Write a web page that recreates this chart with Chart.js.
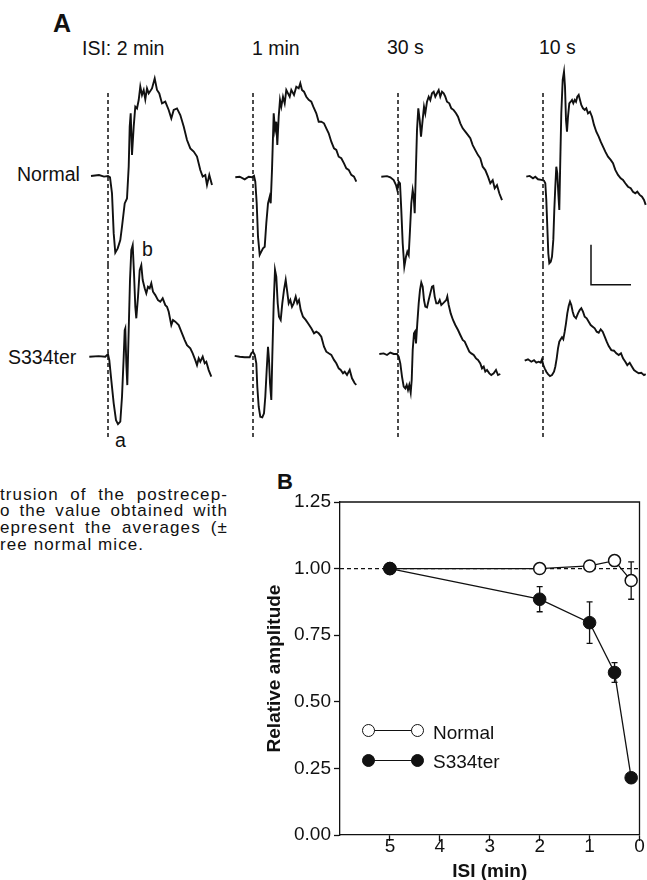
<!DOCTYPE html>
<html>
<head>
<meta charset="utf-8">
<script src="https://cdn.jsdelivr.net/npm/chart.js@4.4.1/dist/chart.umd.min.js"></script>
<style>
  html, body { margin: 0; padding: 0; background: #fff; }
  body { width: 647px; height: 880px; overflow: hidden; position: relative;
         font-family: "Liberation Sans", Arial, Helvetica, sans-serif; color: #111; }
  .lbl { position: absolute; white-space: nowrap; line-height: 1; font-size: 19.5px; }
  .bold { font-weight: bold; }
  .box { position: absolute; }
  .cap { position: absolute; left: 0; width: 228px; font-size: 17px; line-height: 16.7px;
         letter-spacing: 1.1px; white-space: nowrap; }
  .just { text-align: justify; text-align-last: justify; }
  .dot { position: absolute; width: 13px; height: 13px; border-radius: 50%; box-sizing: border-box;
         border: 1.5px solid #111; background: #fff; }
  .dot.filled { background: #111; }
  .rule { position: absolute; height: 0; border-top: 1.3px solid #111; }
</style>
</head>
<body>

<!-- panel A text -->
<div class="lbl bold" style="left:53px; top:11px; font-size:25px;">A</div>
<div class="lbl" style="left:82px; top:39px;">ISI: 2 min</div>
<div class="lbl" style="left:252px; top:39px;">1 min</div>
<div class="lbl" style="left:387px; top:38px;">30 s</div>
<div class="lbl" style="left:539px; top:38px;">10 s</div>
<div class="lbl" style="left:17px; top:164.5px;">Normal</div>
<div class="lbl" style="left:8px; top:348px;">S334ter</div>
<div class="lbl" style="left:142px; top:240px;">b</div>
<div class="lbl" style="left:115px; top:431px;">a</div>

<!-- cropped legend text of the page -->
<div class="cap just" style="top:486.5px;">trusion of the postrecep-</div>
<div class="cap just" style="top:503.2px;">o the value obtained with</div>
<div class="cap just" style="top:519.9px;">epresent the averages (±</div>
<div class="cap" style="top:536.6px;">ree normal mice.</div>

<!-- panel B -->
<div class="lbl bold" style="left:277px; top:470.5px; font-size:22px;">B</div>
<div class="box" id="chartB" style="left:250px; top:462px; width:397px; height:428px;">
  <canvas id="ampChart"></canvas>
</div>

<!-- legend of panel B -->
<div class="rule" style="left:374px; top:729.5px; width:38px;"></div>
<div class="dot" style="left:361.5px; top:723.5px;"></div>
<div class="dot" style="left:410.5px; top:723.5px;"></div>
<div class="lbl" style="left:433px; top:722.5px; font-size:19px;">Normal</div>
<div class="rule" style="left:374px; top:760px; width:38px;"></div>
<div class="dot filled" style="left:361.5px; top:754px;"></div>
<div class="dot filled" style="left:410.5px; top:754px;"></div>
<div class="lbl" style="left:433px; top:752px; font-size:19px;">S334ter</div>

<script>
// ---------- data: panel A, ERG traces, [time after flash (ms), amplitude (uV)] ----------
const normal2min = [[-17,0],[-9,5],[-4,-3],[0,0],[2,-7],[4,-87],[5.7,-287],[7.3,-383],[9.7,-362],[12.3,-320],[14,-253],[16.7,-137],[19,-112],[20.7,47],[21.7,247],[22.7,313],[24,105],[25.7,247],[27.3,347],[29,338],[30.7,380],[32.3,447],[34,405],[35.7,430],[37.3,383],[39,438],[40.7,413],[44,438],[46.7,488],[49,430],[51.3,413],[54,363],[57.3,372],[60.7,330],[63.3,288],[65.7,330],[69,338],[72.3,305],[75.7,247],[79,180],[82.3,138],[85.7,122],[89,97],[92.3,30],[94.7,-3],[97.3,5],[99,-45],[101.3,5],[104,-45]];
const normal1min = [[-17.7,5],[-13.3,8],[-8.3,-5],[-4.3,8],[-1,5],[1,12],[2.3,-17],[3.7,-125],[5,-292],[6.7,-383],[8.3,-367],[10,-350],[11.7,-342],[13.3,-225],[15,-125],[16.7,-92],[17.7,-125],[19,42],[20.7,325],[22,242],[23.3,283],[24.3,167],[25.7,308],[27,392],[28.3,358],[30,408],[31.7,375],[33.3,442],[35,425],[36.7,408],[38.3,442],[41,417],[43.3,458],[45.7,450],[47.3,475],[49,442],[51,433],[53.3,408],[55.7,392],[58.3,383],[60.3,358],[63.3,325],[65.7,283],[68.3,283],[71,275],[73.3,250],[75.7,225],[78.3,183],[81,150],[83.3,142],[85.7,108],[88.3,100],[91,75],[93.3,50],[95.7,42],[98.3,17],[101,8],[103.3,-17]];
const normal30s = [[-16.7,0],[-11,3],[-7.7,-3],[-4.3,-17],[-2,-42],[-0.7,-67],[0.7,-25],[2,-33],[3.3,-167],[4.7,-333],[6.3,-450],[8,-400],[9.3,-375],[10.7,-392],[12,-267],[13.3,-133],[14.7,-67],[15.7,-100],[16.7,-183],[17.7,0],[19,233],[20.3,342],[21.7,283],[23,200],[24.3,267],[26,350],[27.3,317],[29,375],[30.7,400],[32.3,383],[34,417],[35.7,425],[37.3,400],[39,417],[40.7,433],[42.3,400],[44,425],[45.7,417],[47.3,400],[49,375],[51.3,367],[53.3,342],[55.7,333],[58,317],[60,300],[62.3,267],[64.7,242],[67.3,225],[70,208],[72.3,192],[74.7,158],[77.3,133],[80,108],[82.3,92],[84.7,50],[87.3,33],[90,0],[92.3,-33],[94.7,-17],[96.7,-58],[99,-42],[101.3,-83],[104,-117]];
const normal10s = [[-16.7,3],[-13.3,7],[-10,-5],[-7.7,3],[-5,-10],[-1.7,-13],[1,-17],[2.3,-30],[3.3,-113],[4.3,-247],[5.3,-380],[6.3,-430],[7.7,-422],[9,-397],[10.3,-313],[11.3,-163],[12.3,-47],[13.3,53],[14.3,20],[15.3,-80],[16.3,-163],[17.3,87],[18.3,320],[19.7,487],[21,528],[22,453],[23,287],[24,228],[25,303],[26.3,370],[27.7,378],[29,387],[30.3,370],[31.7,387],[33,378],[34.3,403],[35.7,412],[37,387],[38.3,362],[40,345],[41.7,337],[43.3,345],[45,320],[47,328],[49,303],[51,262],[53.3,228],[55.7,203],[57.7,178],[60,153],[62.3,128],[65,103],[67.7,87],[70,70],[72.3,37],[75,12],[77.7,-5],[80,-13],[82.3,-30],[85,-47],[87.7,-55],[90,-72],[92.3,-80],[94.3,-72],[96.7,-88],[99,-97],[101,-113],[102.7,-138]];

const s334ter2min = [[-18.7,0],[-9.3,3],[-2.7,0],[0,13],[1.3,-17],[3.3,-117],[5.7,-233],[8,-317],[10,-337],[12.3,-325],[14,-200],[15.7,0],[16.7,133],[17.3,142],[18.3,-33],[19.3,-142],[20.7,133],[22,383],[23.3,533],[24.7,558],[26,417],[27.3,250],[28.3,192],[30,300],[31.7,433],[33.3,458],[34.7,383],[36.7,342],[38.3,317],[40,350],[41.7,342],[43.3,367],[45,325],[47.3,308],[50,283],[52.3,275],[54.7,292],[57.3,258],[59,250],[60.7,225],[63.3,158],[65,183],[67.3,175],[70.7,158],[74,117],[76.7,83],[79,58],[82.3,42],[84.7,17],[87.3,-17],[89,-42],[90.7,-8],[92.3,-25],[94.7,0],[96.7,-33],[98.3,-25],[100.7,-67],[103.3,-100]];
const s334ter1min = [[-18.3,7],[-13.3,3],[-8.3,0],[-3.3,0],[-1.7,20],[0,28],[1.7,12],[3.3,-30],[4.3,-147],[5.7,-247],[7.3,-297],[9.3,-300],[11,-280],[12.3,-197],[13.7,-63],[15,53],[16,-13],[17,-130],[18.3,-213],[19.3,3],[20.7,270],[22,437],[23.3,403],[24.7,270],[26,203],[27.7,187],[29.3,270],[31,337],[32.7,387],[34,337],[35.7,270],[37.3,287],[39,253],[40.7,270],[42.7,303],[44.3,270],[46,287],[47.7,237],[50,203],[52.7,187],[55,170],[58.3,145],[61,120],[63.3,128],[65.7,120],[68.3,103],[71,53],[73.3,28],[75.7,20],[78.3,12],[81,-13],[83.3,-30],[85.7,-55],[87.7,-63],[90,-80],[91.7,-72],[94,-88],[96.7,-63],[99,-105],[101.7,-130],[103.3,-138]];
const s334ter30s = [[-18.7,0],[-14.3,3],[-11,-5],[-7.7,7],[-4.3,0],[-1,0],[0.7,-13],[2.3,-47],[4,-113],[5.7,-163],[7.3,-172],[8.7,-155],[10,-180],[11.3,-155],[12.7,-193],[13.7,-130],[14.7,20],[16,103],[17,112],[18,53],[19.3,153],[20.7,253],[22,320],[23.3,357],[24.7,337],[26,270],[27.3,237],[29,233],[30.7,270],[32.3,303],[34,337],[35.3,340],[36.7,287],[38.3,253],[40,253],[41.7,270],[43.3,245],[45,253],[46.7,262],[48.3,270],[49.3,287],[50.7,245],[52.7,203],[55,170],[57.3,145],[60,120],[62.3,95],[64.7,70],[66.7,62],[69,37],[71.3,12],[73.3,3],[75.7,-5],[78,-22],[80,-30],[82.3,-47],[84,-72],[85.7,-63],[87.3,-88],[89,-80],[91.3,-97],[93.3,-105],[95.7,-97],[98,-80],[100,-105],[102.3,-100]];
const s334ter10s = [[-18.3,0],[-15,7],[-11.7,-5],[-9,3],[-6.7,-10],[-4.3,-5],[-2.3,-10],[-1,7],[0.3,-22],[1.7,-38],[3.3,-55],[5,-67],[7,-77],[9,-72],[11,-55],[12.3,-30],[13.7,12],[15,62],[16.3,95],[17.7,107],[19,117],[20.3,107],[21.7,145],[23,187],[24.3,237],[25.7,273],[27,295],[28.3,278],[29.7,245],[31,223],[33,212],[35,237],[36.7,253],[38.3,262],[40,245],[41.7,220],[43.7,212],[45.7,195],[47.7,178],[49.7,170],[51.7,162],[53.7,145],[55.7,140],[57.7,157],[59.7,145],[61.7,120],[63.7,95],[65.7,73],[68.3,53],[71,50],[73.3,37],[75.7,28],[78,37],[80,12],[82.3,-5],[84.3,-22],[86.7,-10],[89,-30],[91,-47],[93.3,-55],[95.7,-63],[98.3,-60],[101,-72],[102.7,-67]];

const scaleBarMs = 40;
const scaleBarUv = 200;

// ---------- data: panel B ----------
const isiMin = [5, 2, 1, 0.5, 0.167];
const normalAmp = [1.00, 1.00, 1.01, 1.03, 0.955];
const normalSem = [0, 0, 0, 0, 0.07];
const s334terAmp = [1.00, 0.885, 0.797, 0.61, 0.215];
const s334terSem = [0, 0.047, 0.078, 0.037, 0];
const xTicks = [5, 4, 3, 2, 1, 0];
const yTicks = [0, 0.25, 0.5, 0.75, 1.0, 1.25];
const referenceLevel = 1.0;

// ---------- layout of panel A ----------
const PX_PER_MS = 1, PX_PER_UV = 0.2;
const T_MIN = -22, T_MAX = 110;
const flashX = [107.7, 253, 398, 543.3];
const rows = [
  { top: 60, bottom: 282, dashTop: 93, dashBottom: 265, base: [176, 178.3, 176.7, 177.3],
    traces: [normal2min, normal1min, normal30s, normal10s] },
  { top: 233, bottom: 445, dashTop: 265, dashBottom: 437, base: [356.7, 357.3, 354, 360.7],
    traces: [s334ter2min, s334ter1min, s334ter30s, s334ter10s] }
];
const INK = '#111';
const FONT = '"Liberation Sans", Arial, Helvetica, sans-serif';

const toPts = arr => arr.map(([t, v]) => ({ x: t, y: v }));

rows.forEach((row, r) => {
  row.traces.forEach((trace, c) => {
    const base = row.base[c];
    const holder = document.createElement('div');
    holder.className = 'box';
    holder.style.left = (flashX[c] + T_MIN * PX_PER_MS) + 'px';
    holder.style.top = row.top + 'px';
    holder.style.width = ((T_MAX - T_MIN) * PX_PER_MS) + 'px';
    holder.style.height = (row.bottom - row.top) + 'px';
    const cv = document.createElement('canvas');
    holder.appendChild(cv);
    document.body.appendChild(holder);

    const datasets = [
      { data: toPts(trace), showLine: true, borderColor: INK, borderWidth: 1.9,
        pointRadius: 0, tension: 0 },
      { data: [{ x: 0, y: (base - row.dashTop) / PX_PER_UV }, { x: 0, y: (base - row.dashBottom) / PX_PER_UV }],
        showLine: true, borderColor: INK, borderWidth: 1.5, borderDash: [4, 3], pointRadius: 0 }
    ];
    // calibration bar next to the 10 s traces
    if (r === 1 && c === 3) {
      const t0 = 48, v0 = 380;
      datasets.push({
        data: [{ x: t0, y: v0 + scaleBarUv }, { x: t0, y: v0 }, { x: t0 + scaleBarMs, y: v0 }],
        showLine: true, borderColor: INK, borderWidth: 1.5, pointRadius: 0, tension: 0
      });
    }

    new Chart(cv, {
      type: 'scatter',
      data: { datasets },
      options: {
        responsive: true,
        maintainAspectRatio: false,
        animation: false,
        events: [],
        layout: { padding: 0 },
        scales: {
          x: { type: 'linear', display: false, min: T_MIN, max: T_MAX },
          y: { type: 'linear', display: false,
               min: -(row.bottom - base) / PX_PER_UV, max: (base - row.top) / PX_PER_UV }
        },
        plugins: { legend: { display: false }, tooltip: { enabled: false } }
      }
    });
  });
});

// ---------- panel B ----------
const errorBars = {
  id: 'errorBars',
  beforeDatasetsDraw(chart) {
    const { ctx, scales: { x, y } } = chart;
    ctx.save();
    ctx.strokeStyle = INK;
    ctx.lineWidth = 1.3;
    chart.data.datasets.forEach(ds => {
      if (!ds.errors) return;
      ds.data.forEach((p, i) => {
        const e = ds.errors[i];
        if (!e) return;
        const px = x.getPixelForValue(p.x);
        const hi = y.getPixelForValue(p.y + e);
        const lo = y.getPixelForValue(p.y - e);
        ctx.beginPath();
        ctx.moveTo(px, hi); ctx.lineTo(px, lo);
        ctx.moveTo(px - 3, hi); ctx.lineTo(px + 3, hi);
        ctx.moveTo(px - 3, lo); ctx.lineTo(px + 3, lo);
        ctx.stroke();
      });
    });
    ctx.restore();
  }
};

const frame = {
  id: 'frame',
  afterDraw(chart) {
    const { ctx, chartArea: a } = chart;
    ctx.save();
    ctx.strokeStyle = INK;
    ctx.lineWidth = 1.3;
    ctx.beginPath();
    ctx.moveTo(a.left, a.top);
    ctx.lineTo(a.right, a.top);
    ctx.lineTo(a.right, a.bottom);
    ctx.stroke();
    ctx.restore();
  }
};

const axisStyle = {
  grid: { drawOnChartArea: false, drawTicks: true, tickLength: 6, tickColor: INK, tickWidth: 1.3 },
  border: { display: true, color: INK, width: 1.3 }
};

new Chart(document.getElementById('ampChart'), {
  type: 'scatter',
  data: {
    datasets: [
      { label: 'S334ter', data: isiMin.map((x, i) => ({ x, y: s334terAmp[i] })), errors: s334terSem,
        showLine: true, borderColor: INK, borderWidth: 1.3, tension: 0,
        pointRadius: 6.3, pointBackgroundColor: INK, pointBorderColor: INK, pointBorderWidth: 1 },
      { label: 'Normal', data: isiMin.map((x, i) => ({ x, y: normalAmp[i] })), errors: normalSem,
        showLine: true, borderColor: INK, borderWidth: 1.3, tension: 0,
        pointRadius: 6, pointBackgroundColor: '#fff', pointBorderColor: INK, pointBorderWidth: 1.5 },
      { label: 'reference', data: [{ x: 6, y: referenceLevel }, { x: 0, y: referenceLevel }],
        showLine: true, borderColor: INK, borderWidth: 1.1, borderDash: [4, 3], pointRadius: 0 }
    ]
  },
  options: {
    responsive: true,
    maintainAspectRatio: false,
    animation: false,
    events: [],
    layout: { padding: { top: 40, right: 3, left: 0, bottom: 0 } },
    scales: {
      x: {
        type: 'linear', reverse: true, min: 0, max: 6,
        afterBuildTicks: s => { s.ticks = xTicks.map(v => ({ value: v })); },
        afterFit: s => { s.height = 55; s.paddingLeft = 0; s.paddingRight = 0; },
        ticks: { autoSkip: false, maxRotation: 0, padding: -4, color: INK,
                 font: { family: FONT, size: 19, lineHeight: 1 }, callback: v => String(v) },
        title: { display: true, text: 'ISI (min)', color: INK,
                 font: { family: FONT, size: 19, weight: 'bold', lineHeight: 1.2 },
                 padding: { top: 0, bottom: 7 } },
        ...axisStyle
      },
      y: {
        type: 'linear', min: 0, max: 1.25,
        afterBuildTicks: s => { s.ticks = yTicks.map(v => ({ value: v })); },
        afterFit: s => { s.width = 90; },
        ticks: { padding: 3, color: INK, font: { family: FONT, size: 19 },
                 callback: v => Number(v).toFixed(2) },
        title: { display: true, text: 'Relative amplitude', color: INK,
                 font: { family: FONT, size: 19, weight: 'bold', lineHeight: 1.2 },
                 padding: { top: 13.6, bottom: 0 } },
        ...axisStyle
      }
    },
    plugins: { legend: { display: false }, tooltip: { enabled: false } }
  },
  plugins: [errorBars, frame]
});
</script>
</body>
</html>
